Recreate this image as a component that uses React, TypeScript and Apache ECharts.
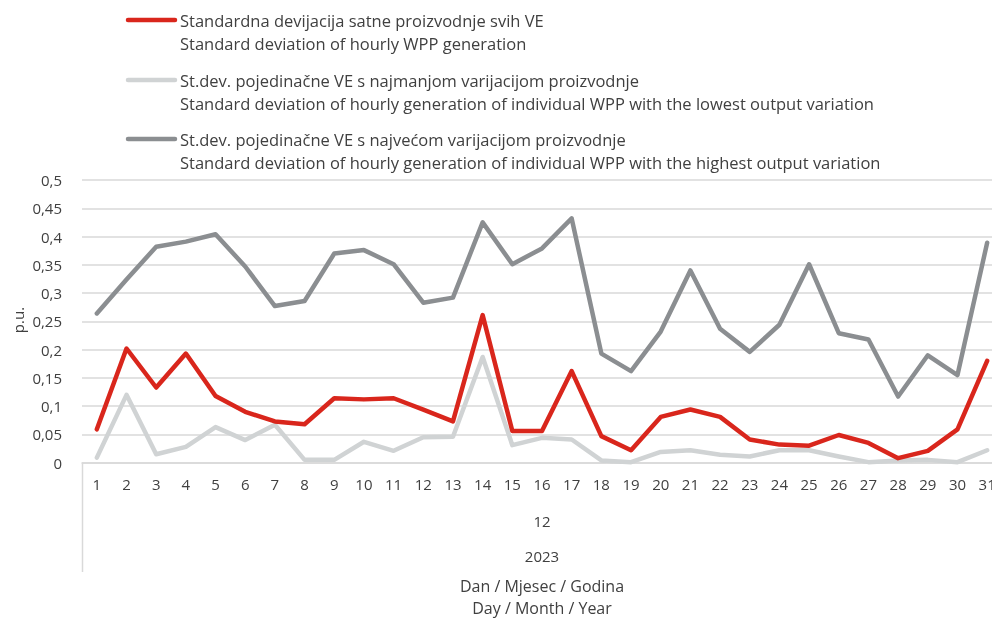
import React, { useEffect, useRef } from "react";
import * as echarts from "echarts";

const days = Array.from({ length: 31 }, (_, i) => String(i + 1));
const monthLabels = ["12"];
const yearLabels = ["2023"];
const yTicks = [0, 0.05, 0.1, 0.15, 0.2, 0.25, 0.3, 0.35, 0.4, 0.45, 0.5];

const seriesNames = [
  ["Standardna devijacija satne proizvodnje svih VE", "Standard deviation of hourly WPP generation"],
  [
    "St.dev. pojedinačne VE s najmanjom varijacijom proizvodnje",
    "Standard deviation of hourly generation of individual WPP with the lowest output variation",
  ],
  [
    "St.dev. pojedinačne VE s najvećom varijacijom proizvodnje",
    "Standard deviation of hourly generation of individual WPP with the highest output variation",
  ],
];

const allWpp = [
  0.059, 0.202, 0.133, 0.193, 0.118, 0.09, 0.073, 0.068, 0.114, 0.112, 0.114, 0.094, 0.073, 0.261, 0.056,
  0.056, 0.162, 0.047, 0.022, 0.081, 0.094, 0.081, 0.041, 0.032, 0.03, 0.049, 0.035, 0.008, 0.021, 0.059, 0.18,
];
const lowestWpp = [
  0.009, 0.12, 0.015, 0.028, 0.063, 0.04, 0.067, 0.005, 0.005, 0.037, 0.021, 0.045, 0.046, 0.187, 0.031,
  0.044, 0.041, 0.004, 0.001, 0.019, 0.022, 0.014, 0.011, 0.022, 0.022, 0.011, 0.001, 0.004, 0.005, 0.001, 0.022,
];
const highestWpp = [
  0.264, 0.324, 0.382, 0.391, 0.404, 0.347, 0.277, 0.286, 0.37, 0.376, 0.351, 0.283, 0.292, 0.425, 0.351,
  0.379, 0.432, 0.193, 0.162, 0.232, 0.34, 0.237, 0.196, 0.244, 0.351, 0.229, 0.218, 0.117, 0.19, 0.155, 0.389,
];

const colors = ["#d9261c", "#d0d3d4", "#8b8e91"];
const FONT = "Open Sans";
const TEXT = "#404040";

export default function App() {
  const ref = useRef<HTMLDivElement>(null);
  useEffect(() => {
    if (!ref.current) return;
    const chart = echarts.init(ref.current, null, { renderer: "svg" });
    const legendTop = [20, 80, 139];
    const graphic: any[] = [];
    seriesNames.forEach((n, i) => {
      graphic.push({
        type: "line",
        shape: { x1: 128, y1: legendTop[i], x2: 175, y2: legendTop[i] },
        style: { stroke: colors[i], lineWidth: 4.5, lineCap: "round" },
      });
      graphic.push({
        type: "text",
        x: 180,
        y: legendTop[i] - 11.5,
        style: {
          text: n[0] + "\n" + n[1],
          fill: TEXT,
          font: `16.5px "${FONT}"`,
          lineHeight: 23,
          textVerticalAlign: "top",
        },
      });
    });
    graphic.push({
      type: "line",
      shape: { x1: 82.5, y1: 463, x2: 82.5, y2: 572 },
      style: { stroke: "#d9d9d9", lineWidth: 1.5 },
    });
    graphic.push({
      type: "text",
      x: 18,
      y: 320,
      rotation: Math.PI / 2,
      style: { text: "p.u.", fill: TEXT, font: `15px "${FONT}"`, align: "center", verticalAlign: "middle" },
    });

    const mkSeries = (data: number[], i: number, z: number) => ({
      type: "line",
      name: seriesNames[i][0],
      data,
      symbol: "none",
      z,
      lineStyle: { color: colors[i], width: 4.5, cap: "round", join: "round" },
      itemStyle: { color: colors[i] },
    });

    chart.setOption({
      animation: false,
      textStyle: { fontFamily: FONT },
      grid: { left: 82, right: -10, top: 180, bottom: 156.3, containLabel: false, outerBoundsMode: "none" },
      graphic,
      xAxis: [
        {
          type: "category",
          data: days,
          boundaryGap: true,
          axisLine: { show: true, lineStyle: { color: "#d9d9d9", width: 1.5 } },
          axisTick: { show: false },
          axisLabel: { color: TEXT, fontSize: 15, margin: 14, interval: 0, fontFamily: FONT },
        },
        {
          type: "category",
          position: "bottom",
          data: monthLabels,
          offset: 37,
          axisLine: { show: false },
          axisTick: { show: false },
          axisLabel: { color: TEXT, fontSize: 15, margin: 14, fontFamily: FONT },
        },
        {
          type: "category",
          position: "bottom",
          data: yearLabels,
          offset: 72,
          axisLine: { show: false },
          axisTick: { show: false },
          axisLabel: { color: TEXT, fontSize: 15, margin: 14, fontFamily: FONT },
          name: "Dan / Mjesec / Godina\nDay / Month / Year",
          nameLocation: "middle",
          nameGap: 40,
          nameTextStyle: { color: TEXT, fontSize: 16, lineHeight: 22, fontFamily: FONT },
        },
      ],
      yAxis: {
        type: "value",
        min: 0,
        max: 0.5,
        interval: 0.05,
        axisLine: { show: false },
        axisTick: { show: false },
        splitLine: { lineStyle: { color: "#d9d9d9", width: 1.5 } },
        axisLabel: {
          color: TEXT,
          fontSize: 15,
          margin: 20,
          fontFamily: FONT,
          formatter: (v: number) => {
            const t = yTicks.find((x) => Math.abs(x - v) < 1e-9);
            return String(t !== undefined ? t : v).replace(".", ",");
          },
        },
      },
      series: [mkSeries(highestWpp, 2, 2), mkSeries(lowestWpp, 1, 3), mkSeries(allWpp, 0, 4)],
    });
    return () => chart.dispose();
  }, []);
  return <div ref={ref} style={{ position: "fixed", left: 0, top: 0, width: 992, height: 619 }} />;
}
